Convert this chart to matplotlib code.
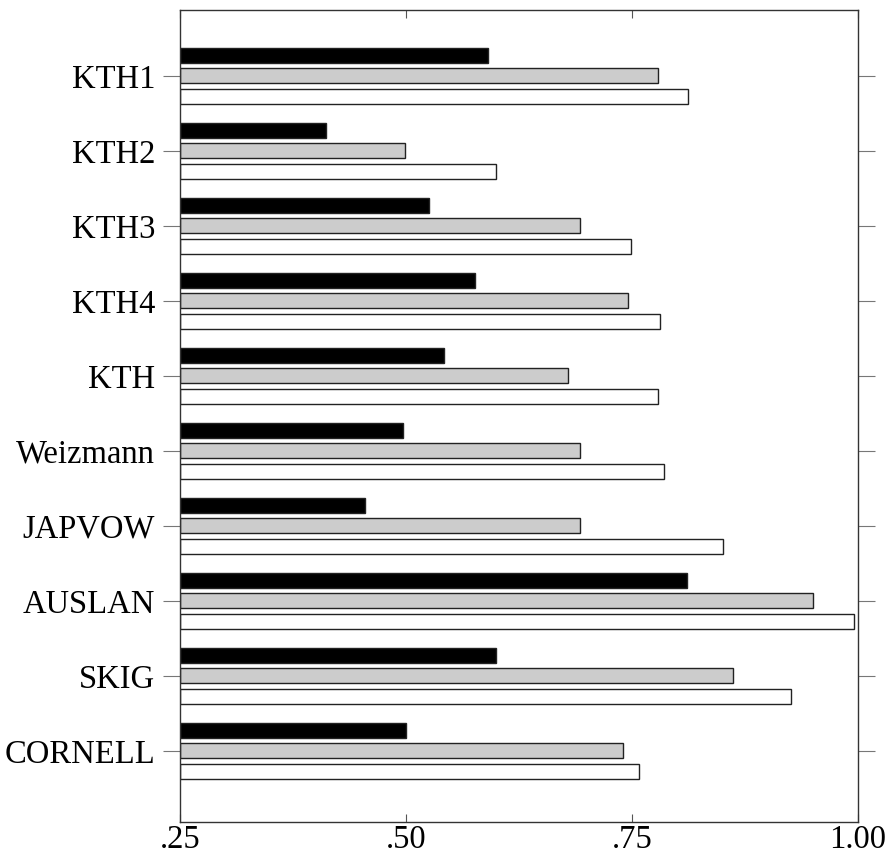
import matplotlib.pyplot as plt
import numpy as np

plt.rcParams['font.family'] = ['Liberation Serif', 'DejaVu Serif']

datasets = ["KTH1", "KTH2", "KTH3", "KTH4", "KTH", "Weizmann",
            "JAPVOW", "AUSLAN", "SKIG", "CORNELL"]
black_vals = [0.591, 0.411, 0.525, 0.576, 0.542, 0.497, 0.455, 0.811, 0.600, 0.500]
grey_vals = [0.779, 0.499, 0.692, 0.746, 0.679, 0.692, 0.692, 0.950, 0.862, 0.740]
white_vals = [0.812, 0.600, 0.749, 0.781, 0.779, 0.785, 0.851, 0.996, 0.926, 0.758]
xticks = [0.25, 0.50, 0.75, 1.00]
xtick_labels = [".25", ".50", ".75", "1.00"]

fig = plt.figure(figsize=(8.88, 8.56), dpi=100)
ax = fig.add_axes([180 / 888, 1 - 822 / 856, 678 / 888, 812 / 856])

y = np.arange(len(datasets))
h = 0.2
off = 0.273
base = 0.25
ax.barh(y - off, np.array(black_vals) - base, left=base, height=h,
        color='black', edgecolor='#222222', linewidth=1)
ax.barh(y, np.array(grey_vals) - base, left=base, height=h,
        color='#cccccc', edgecolor='#222222', linewidth=1)
ax.barh(y + off, np.array(white_vals) - base, left=base, height=h,
        color='white', edgecolor='#222222', linewidth=1)

ax.set_xlim(0.25, 1.0)
ax.set_ylim(9.95, -0.88)
ax.set_yticks(y)
ax.set_yticklabels(datasets, fontsize=23.5)
ax.set_xticks(xticks)
ax.set_xticklabels(xtick_labels, fontsize=23.5)

ax.tick_params(axis='x', direction='in', top=True, length=6, color='#555555', pad=2)
ax.tick_params(axis='y', direction='out', right=True, length=12, color='#777777', pad=6)
for s in ax.spines.values():
    s.set_color('#333333')
    s.set_linewidth(1)

fig.savefig("out.png", dpi=100)
